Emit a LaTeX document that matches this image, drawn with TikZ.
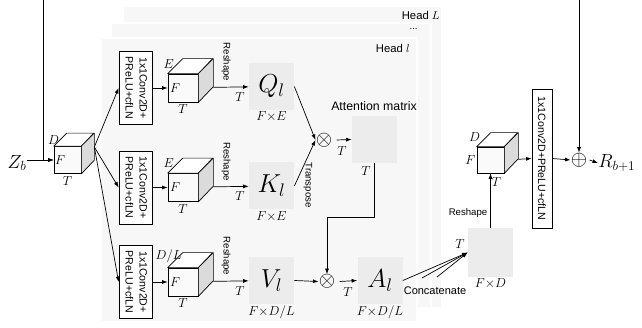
\RequirePackage{fix-cm}
\documentclass[tikz,border=0pt]{standalone}
\usepackage{amsmath}
\usepackage{graphicx}
\usepackage{fontspec}
\setmainfont{Liberation Sans}
\usetikzlibrary{arrows.meta}
\newcommand{\tcube}[5]{
    \node[cubefront, minimum width=#3pt, minimum height=#4pt] (#1) at #2 {};
    \filldraw[cubetop] (#1.north west) -- ++(#5,-#5) -- ++(#3,0) -- (#1.north east) -- cycle;
    \filldraw[cubeside] (#1.north east) -- ++(#5,-#5) -- ++(0,#4) -- (#1.south east) -- cycle;
    \path (#1.south east) ++(#5,-#5) coordinate (#1-br);
    \path (#1.east) ++(#5,-#5) coordinate (#1-r);
}
\newcommand{\convtext}{\rotatebox{-90}{\begin{tabular}{@{}c@{}}1x1Conv2D+\\PReLU+cfLN\end{tabular}}}

\begin{document}
\begin{tikzpicture}[x=1pt,y=-1pt,line width=0.7pt,>={Latex[length=5.5pt,width=4pt]},
    panel/.style={fill=gray!6, draw=white, line width=2pt},
    convbox/.style={draw, fill=white, minimum width=33pt, minimum height=73pt, inner sep=0pt,
        font=\fontsize{10.6}{14}\selectfont},
    cubefront/.style={draw, fill=gray!4, inner sep=0pt},
    cubetop/.style={draw, fill=white, line join=round},
    cubeside/.style={draw, fill=gray!28, line join=round},
    mat/.style={fill=gray!15, minimum width=45pt, minimum height=47pt, inner sep=0pt},
    big/.style={font=\fontsize{26}{28}\selectfont},
    sym/.style={font=\fontsize{13}{14}\selectfont, inner sep=1pt},
    note/.style={font=\fontsize{9.6}{11}\selectfont, inner sep=0pt},
    headtxt/.style={font=\fontsize{11.3}{13}\selectfont, inner sep=0pt},
    op/.style={font=\fontsize{21}{21}\selectfont, inner sep=0pt}]
    \useasboundingbox (0,0) rectangle (642,328);
    \draw[panel] (123,6) rectangle (442,308);
    \node[headtxt, anchor=east] (headL) at (440,15) {Head $L$};
    \draw[panel] (111,23) rectangle (431,308);
    \node[note, anchor=east] (headdots) at (418,29) {...};
    \draw[panel] (101,38) rectangle (417,322);
    \node[headtxt, anchor=east] (headl) at (410,48) {Head $l$};

    \node[inner sep=0pt, font=\fontsize{19}{20}\selectfont] (Zb) at (17,163) {$Z_b$};
    \tcube{cin}{(67.5,160)}{27}{27}{13}
    \node[sym, anchor=south] (cinD) at (cin.north west) {$D$};
    \node[sym, anchor=west] (cinF) at (cin.west) {$F$};
    \node[sym, anchor=north] (cinT) at ([yshift=-1pt]cin.south) {$T$};
    \coordinate (skipin) at (43,0);
    \draw[->] (Zb.east |- cin.west) -- (cin.west);
    \draw[->] (skipin) |- (cin.west);

    \foreach \n/\y/\tl/\dm in {Q/88/E/{F{\times}E},K/187.5/E/{F{\times}E},V/282/{D/L}/{F{\times}D/L}}{
        \node[convbox] (conv\n) at (135.5,\y) {\convtext};
        \draw[->] (cin-r) -- (conv\n.west);
        \tcube{cube\n}{(183,\y)}{30}{28}{15}
        \draw[->] (conv\n.east) -- (cube\n.west);
        \node[sym, anchor=south] (top\n) at ([xshift=1pt,yshift=4pt]cube\n.north west) {$\tl$};
        \node[sym, anchor=west] (f\n) at ([xshift=1pt]cube\n.west) {$F$};
        \node[sym, anchor=north] (t\n) at ([yshift=-1pt]cube\n.south) {$T$};
        \node[mat, big] (m\n) at (271.5,\y-1.5) {$\n_l$};
        \node[sym, anchor=north] (d\n) at (m\n.south) {$\dm$};
        \draw[->] (cube\n-br) -- (m\n);
        \node[note, rotate=-90] (rs\n) at (226,\y-26) {Reshape};
        \node[sym] (rt\n) at (240,\y+9) {$T$};
    }

    \node[op] (mul1) at (324,140) {$\otimes$};
    \draw[->] (mQ.east) -- (mul1.west);
    \draw[->] (mK.east) -- (mul1.west);
    \node[note, rotate=-90] (transp) at (308,185) {Transpose};
    \node[mat] (attn) at (374.5,139.5) {};
    \node[headtxt, font=\fontsize{12.3}{14}\selectfont] (attnlbl) at (374,106) {Attention matrix};
    \draw[->] ([xshift=4pt]mul1.east) -- (attn.west);
    \node[sym] (attnT1) at (342,151) {$T$};
    \node[sym] (attnT2) at (366,171) {$T$};

    \node[op] (mul2) at (327,281.5) {$\otimes$};
    \draw[->] (attn.south) -- ++(0,54) -| (mul2.north);
    \draw[->] (mV.east) -- (mul2.west);
    \node[mat, big] (mA) at (380,280.5) {$A_l$};
    \draw[->] ([xshift=4pt]mul2.east) -- (mA.west);
    \node[sym] (aT) at (348,292) {$T$};
    \node[sym, anchor=north] (dA) at (mA.south) {$F{\times}D/L$};

    \node[mat, minimum height=49pt] (mcat) at (490.5,252.5) {};
    \coordinate (catb) at (422,278);
    \coordinate (catc) at (437,277);
    \draw[->] (mA.east) -- (mcat.west);
    \draw[->] (catb) -- (mcat.west);
    \draw[->] (catc) -- (mcat.west);
    \node[headtxt, font=\fontsize{11}{13}\selectfont] (catlbl) at (435,291) {Concatenate};
    \node[sym] (catT) at (460,244) {$T$};
    \node[sym, anchor=north] (dcat) at (mcat.south) {$F{\times}D$};

    \tcube{cout}{(490.5,160)}{27}{26}{14}
    \node[sym, anchor=south] (coutD) at ([xshift=-2pt,yshift=4pt]cout.north west) {$D$};
    \node[sym, anchor=east] (coutF) at (cout.west) {$F$};
    \draw[->] (mcat.north) -- (cout.south);
    \node[note] (rsout) at (468,213) {Reshape};
    \node[sym, anchor=west] (coutT) at ([yshift=-9pt]cout.south) {$T$};

    \node[convbox, minimum width=20pt, minimum height=139pt] (convo) at (542,158.5)
        {\rotatebox{-90}{1x1Conv2D+PReLU+cfLN}};
    \draw[->] (cout-br) -- (convo.west);
    \node[op] (add) at (579,160) {$\oplus$};
    \draw[->] (convo.east) -- (add.west);
    \coordinate (skipout) at (579,0);
    \draw[->] (skipout) -- (add.north);
    \node[inner sep=0pt, anchor=west, font=\fontsize{19}{20}\selectfont] (Rb) at (598,163) {$R_{b+1}$};
    \draw[->] ([xshift=2pt]add.east) -- (Rb.west);
\end{tikzpicture}
\end{document}
